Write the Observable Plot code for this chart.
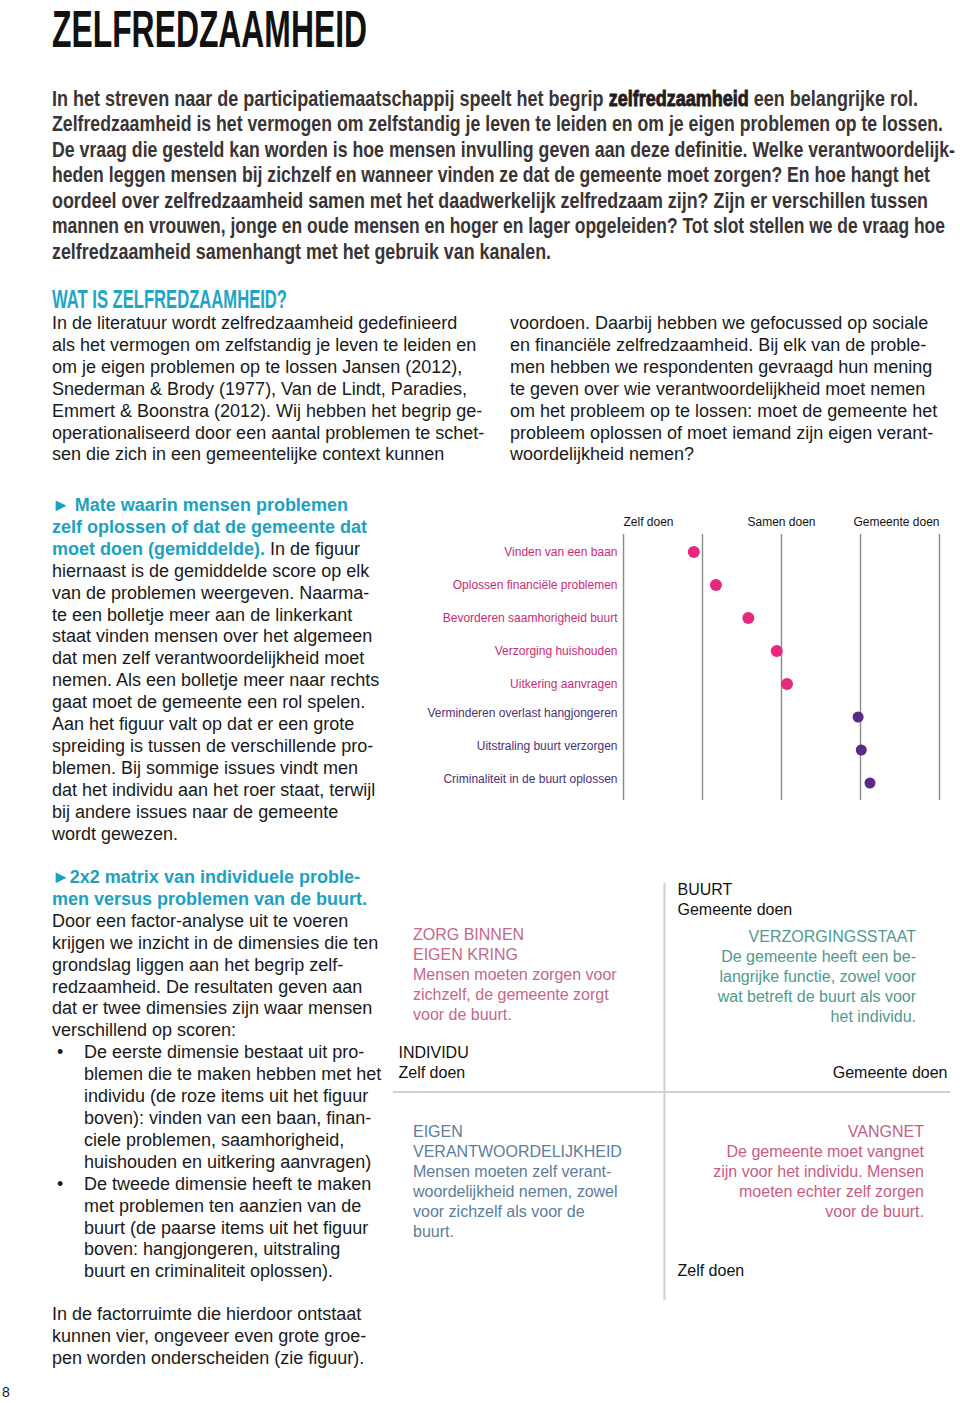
<!DOCTYPE html>
<html>
<head>
<meta charset="utf-8">
<script src="https://cdn.jsdelivr.net/npm/d3@7"></script>
<script src="https://cdn.jsdelivr.net/npm/@observablehq/plot@0.6"></script>
<style>
  html, body { margin: 0; padding: 0; background: #fff; }
  #page { position: relative; width: 960px; height: 1403px; overflow: hidden; background: #fff; font-family: "Liberation Sans", Arial, Helvetica, sans-serif; color: #1a1a1a; }
  .abs { position: absolute; }
  .fit { display: block; width: max-content; white-space: nowrap; transform-origin: 0 0; }
  .cond { font-family: "Liberation Sans", Arial, sans-serif; }
  .body { font-size: 18px; line-height: 21.9px; white-space: nowrap; }
  .teal { color: #1ba2c2; font-weight: bold; }
  .quad { font-size: 16px; line-height: 20px; white-space: nowrap; }
  .bul { position: relative; padding-left: 32px; }
  .bul::before { content: "•"; position: absolute; left: 5px; }
  .emph { -webkit-text-stroke: 0.9px #231d1d; color: #231d1d; }
</style>
</head>
<body>
<div id="page">
  <div class="abs cond" style="left:52px; top:0px; font-size:52px; line-height:58px; font-weight:bold; color:#111;">
    <span class="fit" data-w="315">ZELFREDZAAMHEID</span>
  </div>

  <div class="abs cond" id="intro" style="left:52px; top:85.5px; font-size:22.8px; line-height:25.5px; font-weight:bold; color:#3a3434;"></div>

  <div class="abs cond" style="left:52px; top:285px; font-size:26px; line-height:29px; font-weight:bold; color:#1ea6c6;">
    <span class="fit" data-w="235">WAT IS ZELFREDZAAMHEID?</span>
  </div>

  <div class="abs body" style="left:52px; top:313px;">In de literatuur wordt zelfredzaamheid gedefinieerd<br>als het vermogen om zelfstandig je leven te leiden en<br>om je eigen problemen op te lossen Jansen (2012),<br>Snederman &amp; Brody (1977), Van de Lindt, Paradies,<br>Emmert &amp; Boonstra (2012). Wij hebben het begrip ge-<br>operationaliseerd door een aantal problemen te schet-<br>sen die zich in een gemeentelijke context kunnen</div>

  <div class="abs body" style="left:510px; top:313px;">voordoen. Daarbij hebben we gefocussed op sociale<br>en financiële zelfredzaamheid. Bij elk van de proble-<br>men hebben we respondenten gevraagd hun mening<br>te geven over wie verantwoordelijkheid moet nemen<br>om het probleem op te lossen: moet de gemeente het<br>probleem oplossen of moet iemand zijn eigen verant-<br>woordelijkheid nemen?</div>

  <div class="abs body" style="left:52px; top:495px;"><span class="teal">► Mate waarin mensen problemen<br>zelf oplossen of dat de gemeente dat<br>moet doen (gemiddelde).</span> In de figuur<br>hiernaast is de gemiddelde score op elk<br>van de problemen weergeven. Naarma-<br>te een bolletje meer aan de linkerkant<br>staat vinden mensen over het algemeen<br>dat men zelf verantwoordelijkheid moet<br>nemen. Als een bolletje meer naar rechts<br>gaat moet de gemeente een rol spelen.<br>Aan het figuur valt op dat er een grote<br>spreiding is tussen de verschillende pro-<br>blemen. Bij sommige issues vindt men<br>dat het individu aan het roer staat, terwijl<br>bij andere issues naar de gemeente<br>wordt gewezen.</div>

  <div class="abs body" style="left:52px; top:867px;"><span class="teal">►2x2 matrix van individuele proble-<br>men versus problemen van de buurt.</span><br>Door een factor-analyse uit te voeren<br>krijgen we inzicht in de dimensies die ten<br>grondslag liggen aan het begrip zelf-<br>redzaamheid. De resultaten geven aan<br>dat er twee dimensies zijn waar mensen<br>verschillend op scoren:
    <div class="bul">De eerste dimensie bestaat uit pro-<br>blemen die te maken hebben met het<br>individu (de roze items uit het figuur<br>boven): vinden van een baan, finan-<br>ciele problemen, saamhorigheid,<br>huishouden en uitkering aanvragen)</div>
    <div class="bul">De tweede dimensie heeft te maken<br>met problemen ten aanzien van de<br>buurt (de paarse items uit het figuur<br>boven: hangjongeren, uitstraling<br>buurt en criminaliteit oplossen).</div>
  </div>

  <div class="abs body" style="left:52px; top:1304px;">In de factorruimte die hierdoor ontstaat<br>kunnen vier, ongeveer even grote groe-<br>pen worden onderscheiden (zie figuur).</div>

  <div class="abs" style="left:2px; top:1384px; font-size:14px; line-height:16px;">8</div>

  <div class="abs" id="dotplot" style="left:400px; top:500px;"></div>
  <div class="abs" id="matrix" style="left:390px; top:875px;"></div>

  <div class="abs quad" style="left:413px; top:925px; color:#c4678b;">ZORG BINNEN<br>EIGEN KRING<br>Mensen moeten zorgen voor<br>zichzelf, de gemeente zorgt<br>voor de buurt.</div>
  <div class="abs quad" style="right:44px; top:927px; text-align:right; color:#4f9b8c;">VERZORGINGSSTAAT<br>De gemeente heeft een be-<br>langrijke functie, zowel voor<br>wat betreft de buurt als voor<br>het individu.</div>
  <div class="abs quad" style="left:413px; top:1122px; color:#5b7e9c;">EIGEN<br>VERANTWOORDELIJKHEID<br>Mensen moeten zelf verant-<br>woordelijkheid nemen, zowel<br>voor zichzelf als voor de<br>buurt.</div>
  <div class="abs quad" style="right:36px; top:1122px; text-align:right; color:#c95c84;">VANGNET<br>De gemeente moet vangnet<br>zijn voor het individu. Mensen<br>moeten echter zelf zorgen<br>voor de buurt.</div>
</div>

<script>
// ---- Intro text lines ----
const introLines = [
  'In het streven naar de participatiemaatschappij speelt het begrip <span class="emph">zelfredzaamheid</span> een belangrijke rol.',
  'Zelfredzaamheid is het vermogen om zelfstandig je leven te leiden en om je eigen problemen op te lossen.',
  'De vraag die gesteld kan worden is hoe mensen invulling geven aan deze definitie. Welke  verantwoordelijk-',
  'heden leggen mensen bij zichzelf en wanneer vinden ze dat de gemeente moet zorgen? En hoe hangt het',
  'oordeel over zelfredzaamheid samen met het daadwerkelijk zelfredzaam zijn? Zijn er verschillen tussen',
  'mannen en vrouwen, jonge en oude mensen en hoger en lager opgeleiden? Tot slot stellen we de vraag hoe',
  'zelfredzaamheid samenhangt met het gebruik van kanalen.'
];
const introWidths = [866, 891, 903, 878, 876, 893, 499];

// ---- Dot plot data ----
const problems = [
  "Vinden van een baan",
  "Oplossen financiële problemen",
  "Bevorderen saamhorigheid buurt",
  "Verzorging huishouden",
  "Uitkering aanvragen",
  "Verminderen overlast hangjongeren",
  "Uitstraling buurt verzorgen",
  "Criminaliteit in de buurt oplossen"
];
const scores = [1.89, 2.17, 2.58, 2.94, 3.07, 3.97, 4.01, 4.12];
const groups = ["individu", "individu", "individu", "individu", "individu", "buurt", "buurt", "buurt"];
const scaleLabels = ["Zelf doen", "Samen doen", "Gemeente doen"];
const scaleValues = [1, 3, 5];
const gridValues = [1, 2, 3, 4, 5];

// ---- Matrix data ----
const matrixLines = [0];
const matrixTop = "BUURT\nGemeente doen";
const matrixBottom = "Zelf doen";
const matrixLeft = "INDIVIDU\nZelf doen";
const matrixRight = "Gemeente doen";

// Intro build
const intro = document.getElementById("intro");
introLines.forEach((html, i) => {
  const d = document.createElement("span");
  d.className = "fit";
  d.dataset.w = introWidths[i];
  d.innerHTML = html;
  intro.appendChild(d);
});

// Fit condensed lines
document.querySelectorAll(".fit").forEach(el => {
  const w = el.getBoundingClientRect().width;
  const target = +el.dataset.w;
  el.style.transform = `scaleX(${target / w})`;
});

// Dot plot
const rows = problems.map((p, i) => ({problem: p, score: scores[i], group: groups[i]}));
const headers = scaleLabels.map((l, i) => ({label: l, value: scaleValues[i]}));
const pinkDot = "#e8287c", purpleDot = "#5a2a86";
const pinkText = "#c92a78", purpleText = "#4d2f76";

const dotplot = Plot.plot({
  width: 560,
  height: 310,
  marginLeft: 223,
  marginRight: 21,
  marginTop: 34,
  marginBottom: 10,
  x: {domain: [1, 5], axis: null},
  y: {type: "band", domain: problems, axis: null, padding: 0},
  style: {fontFamily: "'Liberation Sans', Arial, sans-serif", background: "transparent"},
  marks: [
    Plot.ruleX(gridValues, {stroke: "#8c8c8c", strokeWidth: 1.4}),
    Plot.dot(rows.filter(d => d.group === "individu"), {x: "score", y: "problem", r: 6, fill: pinkDot, stroke: "none"}),
    Plot.dot(rows.filter(d => d.group === "buurt"), {x: "score", y: "problem", r: 5.5, fill: purpleDot, stroke: "none"}),
    Plot.text(rows.filter(d => d.group === "individu"), {y: "problem", text: "problem", frameAnchor: "left", textAnchor: "end", dx: -6, fill: pinkText, fontSize: 12}),
    Plot.text(rows.filter(d => d.group === "buurt"), {y: "problem", text: "problem", frameAnchor: "left", textAnchor: "end", dx: -6, dy: -4, fill: purpleText, fontSize: 12}),
    Plot.text([headers[0]], {x: "value", text: "label", frameAnchor: "top", dy: -17, textAnchor: "start", fill: "#111", fontSize: 12}),
    Plot.text([headers[1]], {x: "value", text: "label", frameAnchor: "top", dy: -17, textAnchor: "middle", fill: "#111", fontSize: 12}),
    Plot.text([headers[2]], {x: "value", text: "label", frameAnchor: "top", dy: -17, textAnchor: "end", fill: "#111", fontSize: 12})
  ]
});
document.getElementById("dotplot").appendChild(dotplot);

// Matrix
const matrix = Plot.plot({
  width: 570,
  height: 430,
  marginLeft: 3,
  marginRight: 25,
  marginTop: 8,
  marginBottom: 5,
  x: {domain: [-1, 1], axis: null},
  y: {domain: [-1, 1], axis: null},
  style: {fontFamily: "'Liberation Sans', Arial, sans-serif", background: "transparent"},
  marks: [
    Plot.ruleX(matrixLines, {stroke: "#d2d2d2", strokeWidth: 2.2}),
    Plot.ruleY(matrixLines, {stroke: "#d2d2d2", strokeWidth: 2.2, insetRight: -15}),
    Plot.text([matrixTop], {x: () => matrixLines[0], text: d => d, frameAnchor: "top", textAnchor: "start", lineAnchor: "top", dx: 13, dy: -3, fontSize: 16, lineHeight: 1.25, fill: "#111"}),
    Plot.text([matrixBottom], {x: () => matrixLines[0], text: d => d, frameAnchor: "bottom", textAnchor: "start", lineAnchor: "bottom", dx: 13, dy: -25, fontSize: 16, lineHeight: 1.25, fill: "#111"}),
    Plot.text([matrixLeft], {y: () => matrixLines[0], text: d => d, frameAnchor: "left", textAnchor: "start", lineAnchor: "bottom", dx: 5, dy: -14, fontSize: 16, lineHeight: 1.25, fill: "#111"}),
    Plot.text([matrixRight], {y: () => matrixLines[0], text: d => d, frameAnchor: "right", textAnchor: "end", lineAnchor: "bottom", dx: 12, dy: -14, fontSize: 16, lineHeight: 1.25, fill: "#111"})
  ]
});
document.getElementById("matrix").appendChild(matrix);
</script>
</body>
</html>
